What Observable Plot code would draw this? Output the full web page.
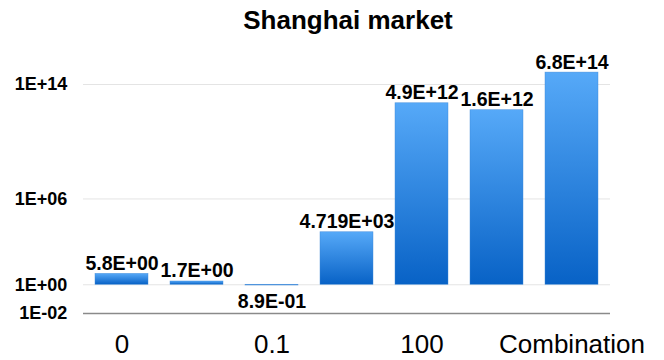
<!DOCTYPE html>
<html>
<head>
<meta charset="utf-8">
<script src="https://cdn.jsdelivr.net/npm/d3@7"></script>
<script src="https://cdn.jsdelivr.net/npm/@observablehq/plot@0.6"></script>
<style>
  html, body { margin: 0; padding: 0; background: #fff; }
  #wrap { width: 664px; height: 360px; position: relative; overflow: hidden; }
  #title { height: 50px; position: relative; font-family: "Liberation Sans", Arial, sans-serif; font-weight: bold; font-size: 26px; color: #000; }
  #title span { position: absolute; left: 348px; top: 5px; transform: translateX(-50%); white-space: nowrap; }
</style>
</head>
<body>
<div id="wrap">
  <div id="title"><span>Shanghai market</span></div>
  <div id="chart"></div>
</div>
<script>
const titleText = "Shanghai market";
const xLabels = ["0", "", "0.1", "", "100", "", "Combination"];
const values = [5.8, 1.7, 0.89, 4719, 4.9e12, 1.6e12, 6.8e14];
const valueLabels = ["5.8E+00", "1.7E+00", "8.9E-01", "4.719E+03", "4.9E+12", "1.6E+12", "6.8E+14"];
const yTicks = [1e-2, 1, 1e6, 1e14];
const yTickLabels = ["1E-02", "1E+00", "1E+06", "1E+14"];

const data = values.map((v, i) => ({i, v, label: valueLabels[i]}));
const ups = data.filter(d => d.v >= 1);
const downs = data.filter(d => d.v < 1);

const chart = Plot.plot({
  width: 664,
  height: 310,
  marginLeft: 83,
  marginRight: 54,
  marginTop: 5.4,
  marginBottom: 47.1,
  style: {fontFamily: "'Liberation Sans', Arial, sans-serif", background: "#fff", color: "#000"},
  x: {type: "band", domain: d3.range(values.length), paddingInner: 0.292, paddingOuter: 0.146, label: null},
  y: {type: "log", domain: [1e-2, 1e16], label: null},
  marks: [
    Plot.ruleY(yTicks.filter(t => t > 1e-2), {stroke: "#e4e4e4", strokeWidth: 1}),
    Plot.barY(data, {x: "i", y1: 1, y2: "v", fill: "url(#barGrad)", stroke: "#3b86d6", strokeWidth: 0.6, strokeOpacity: 0.7}),
    Plot.ruleY([1e-2], {stroke: "#8a8a8a", strokeWidth: 1.5}),
    Plot.axisY({ticks: yTicks, tickFormat: d => yTickLabels[yTicks.indexOf(d)], tickSize: 0, tickPadding: 16.3, fontSize: 18, fontWeight: "bold", label: null}),
    Plot.axisX({tickFormat: i => xLabels[i], tickSize: 0, tickPadding: 21.5, fontSize: 26, label: null}),
    Plot.text(ups, {x: "i", y: "v", text: "label", lineAnchor: "bottom", dy: -4, fontSize: 19.5, fontWeight: "bold", fill: "#000"}),
    Plot.text(downs, {x: "i", y: "v", text: "label", lineAnchor: "top", dy: 9, fontSize: 19.5, fontWeight: "bold", fill: "#000"})
  ]
});

const svg = d3.select(chart);
const defs = svg.insert("defs", ":first-child");
const g = defs.append("linearGradient").attr("id", "barGrad").attr("x1", 0).attr("y1", 0).attr("x2", 0).attr("y2", 1);
g.append("stop").attr("offset", "0%").attr("stop-color", "#56a9f8");
g.append("stop").attr("offset", "100%").attr("stop-color", "#0862c6");

document.getElementById("chart").appendChild(chart);
</script>
</body>
</html>
